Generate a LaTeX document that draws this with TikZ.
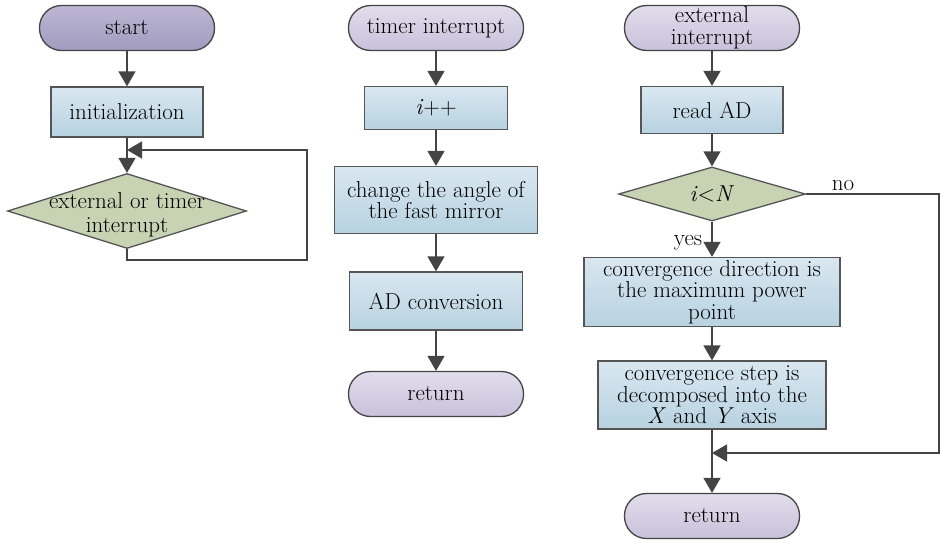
\documentclass[tikz,border=0pt]{standalone}
\usepackage{fontspec}
\setmainfont{Latin Modern Roman}
\usetikzlibrary{arrows.meta,shapes.geometric}
\definecolor{bordc}{HTML}{555555}
\definecolor{arrc}{HTML}{444444}
\definecolor{boxtop}{HTML}{D9E7F0}
\definecolor{boxbot}{HTML}{B7D2E1}
\definecolor{termtop}{HTML}{E2DDEC}
\definecolor{termbot}{HTML}{C8C1DA}
\definecolor{starttop}{HTML}{BDB7D4}
\definecolor{startbot}{HTML}{A19BBF}
\definecolor{decfill}{HTML}{C8D3B4}
\tikzset{
  boxnode/.style={draw=bordc, line width=1.3pt, top color=boxtop, bottom color=boxbot, align=center, inner sep=0pt},
  termnode/.style={draw=arrc, line width=1.3pt, top color=termtop, bottom color=termbot, rounded corners=22pt, minimum width=175pt, minimum height=45pt, align=center, inner sep=0pt},
  startnode/.style={termnode, top color=starttop, bottom color=startbot},
  decnode/.style={draw=bordc, line width=1.3pt, fill=decfill, shape=diamond, inner sep=0pt},
  txt/.style={align=center, inner sep=0pt},
  arr/.style={draw=arrc, line width=1.5pt, -{Triangle[width=17pt,length=15pt]}},
  ln/.style={draw=arrc, line width=1.5pt}
}
\begin{document}
\begin{tikzpicture}[x=1pt,y=-1pt, font=\fontsize{23}{21.5}\selectfont]
\useasboundingbox (0,0) rectangle (941,541);
% column 1
\node[startnode] (s1) at (127,28) {start};
\node[boxnode, minimum width=152pt, minimum height=50pt] (init) at (127,112) {initialization};
\node[decnode, minimum width=239pt, minimum height=75pt] (d1) at (127,211) {};
\node[txt, font=\fontsize{23}{24}\selectfont] (d1t) at (127,215) {external or timer\\interrupt};
\coordinate (loopc) at (307,150);
\coordinate (loopin) at (127,150);
\draw[arr] (s1) -- (init);
\draw[arr] (init) -- (d1.north);
\draw[arr] (d1.south) -- ++(0,11) -| (loopc) -- (loopin);
% column 2
\node[termnode] (t2) at (436,28) {timer interrupt};
\node[boxnode, minimum width=143pt, minimum height=43pt] (ipp) at (436,108) {\textit{i}++};
\node[boxnode, minimum width=203pt, minimum height=67pt] (chg) at (436,200) {change the angle of\\the fast mirror};
\node[boxnode, minimum width=173pt, minimum height=58pt] (adc) at (436,301) {AD conversion};
\node[termnode] (r2) at (436,394) {return};
\draw[arr] (t2) -- (ipp);
\draw[arr] (ipp) -- (chg);
\draw[arr] (chg) -- (adc);
\draw[arr] (adc) -- (r2);
% column 3
\node[termnode] (t3) at (712,28) {external\\interrupt};
\node[boxnode, minimum width=142pt, minimum height=47pt] (rad) at (712,110) {read AD};
\node[decnode, minimum width=187pt, minimum height=54pt] (d3) at (712,194) {};
\node[txt] (d3t) at (712,194) {\textit{i}<\textit{N}};
\node[boxnode, minimum width=256pt, minimum height=69pt] (cdir) at (712,292) {convergence direction is\\the maximum power\\point};
\node[boxnode, minimum width=228pt, minimum height=68pt] (cstep) at (712,395) {convergence step is\\decomposed into the\\\textit{X} and \textit{Y} axis};
\node[termnode] (r3) at (712,516) {return};
\coordinate (noc) at (939,194);
\coordinate (merge) at (712,453);
\draw[arr] (t3) -- (rad);
\draw[arr] (rad) -- (d3.north);
\draw[arr] (d3.south) -- (cdir);
\draw[arr] (cdir) -- (cstep);
\draw[arr] (cstep) -- (r3);
\draw[arr] (d3.east) -- (noc) |- (merge);
\node[txt] (nolab) at (843,186) {no};
\node[txt] (yeslab) at (688,243) {yes};
\end{tikzpicture}
\end{document}
